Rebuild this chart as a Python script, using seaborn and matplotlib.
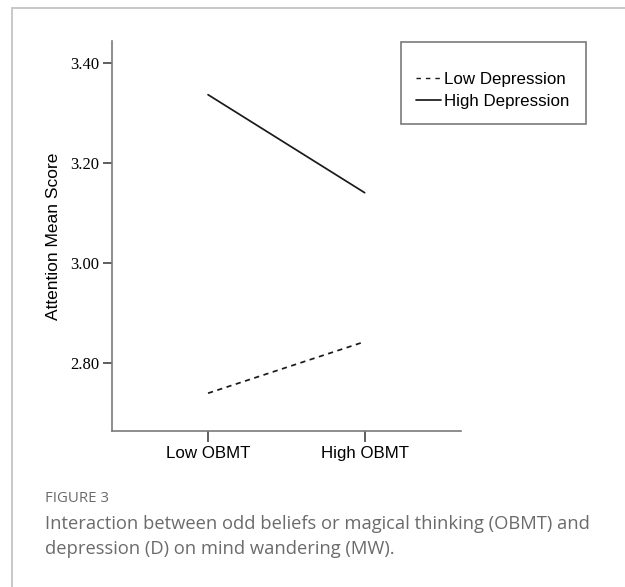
import matplotlib
matplotlib.use("Agg")
import matplotlib.pyplot as plt
from matplotlib.patches import Rectangle
from matplotlib.lines import Line2D
import seaborn as sns
import pandas as pd

# Estimated marginal means of attention
obmt_levels = ["Low OBMT", "High OBMT"]
low_depression = [2.739, 2.842]
high_depression = [3.336, 3.140]
y_ticks = [2.80, 3.00, 3.20, 3.40]
y_tick_labels = ["2.80", "3.00", "3.20", "3.40"]
series_names = ["Low Depression", "High Depression"]

df = pd.DataFrame({
    "OBMT": obmt_levels * 2,
    "Attention Mean Score": low_depression + high_depression,
    "Depression": [series_names[0]] * 2 + [series_names[1]] * 2,
})

sns.set_theme(style="white")
plt.rcParams["font.family"] = ["Liberation Sans", "DejaVu Sans"]

W, H = 625, 587
fig = plt.figure(figsize=(W / 100, H / 100), dpi=100)
fig.patch.set_facecolor("white")

# outer panel border
fig.add_artist(Rectangle((12 / W, -0.05), 1.2, 1 - 8 / H + 0.05,
                         transform=fig.transFigure, fill=False,
                         edgecolor="#c4c4c4", linewidth=1.3))

ax = fig.add_axes([111.7 / W, 1 - 431 / H, (461 - 111.7) / W, (431 - 41) / H])
sns.lineplot(data=df, x="OBMT", y="Attention Mean Score", hue="Depression",
             style="Depression", palette={series_names[0]: "#1a1a1a", series_names[1]: "#1a1a1a"},
             dashes={series_names[0]: (3, 2.6), series_names[1]: ""},
             linewidth=1.25, legend=False, ax=ax, sort=False)

ax.set_xlim(-0.615, 1.615)
ax.set_ylim(2.6634, 3.4434)
ax.set_yticks(y_ticks)
ax.set_yticklabels(y_tick_labels, family="Liberation Serif", fontsize=12, color="#000000")
ax.set_xticks([0, 1])
ax.set_xticklabels(obmt_levels, fontsize=12.2, color="#000000")
ax.set_xlabel("")
ax.set_ylabel("Attention Mean Score", fontsize=12.5, color="#000000", labelpad=7)

for side in ["top", "right"]:
    ax.spines[side].set_visible(False)
for side in ["left", "bottom"]:
    ax.spines[side].set_color("#7a7a7a")
    ax.spines[side].set_linewidth(1.2)
ax.tick_params(axis="y", direction="out", length=6.2, width=1.1, color="#333333", pad=2.5, left=True)
ax.tick_params(axis="x", direction="out", length=8, width=1.1, color="#333333", pad=2.5, bottom=True)

# legend box and entries
fig.add_artist(Rectangle((401 / W, 1 - 124.3 / H), (585.7 - 401) / W, (124.3 - 42.3) / H,
                         transform=fig.transFigure, fill=False,
                         edgecolor="#7a7a7a", linewidth=1.2))
handles = [Line2D([], [], color="#1a1a1a", linewidth=1.0, dashes=(3.2, 3.6)),
           Line2D([], [], color="#1a1a1a", linewidth=1.25)]
fig.legend(handles, series_names, loc="upper left",
           bbox_to_anchor=(416 / W, 1 - 72 / H), frameon=False,
           fontsize=12.2, handlelength=1.45, handletextpad=0.22,
           labelspacing=0.42, borderpad=0, borderaxespad=0, labelcolor="#000000")

# caption
fig.text(44.6 / W, 1 - 498 / H, "FIGURE 3", family=["Open Sans", "DejaVu Sans"],
         fontsize=10.8, color="#6b6b6b", va="center", ha="left")
fig.text(44.6 / W, 1 - 524 / H,
         "Interaction between odd beliefs or magical thinking (OBMT) and",
         family=["Open Sans", "DejaVu Sans"], fontsize=13.2, color="#6b6b6b",
         va="center", ha="left")
fig.text(44.6 / W, 1 - 549 / H, "depression (D) on mind wandering (MW).",
         family=["Open Sans", "DejaVu Sans"], fontsize=13.2, color="#6b6b6b",
         va="center", ha="left")

fig.savefig("out.png", dpi=100, facecolor="white")
